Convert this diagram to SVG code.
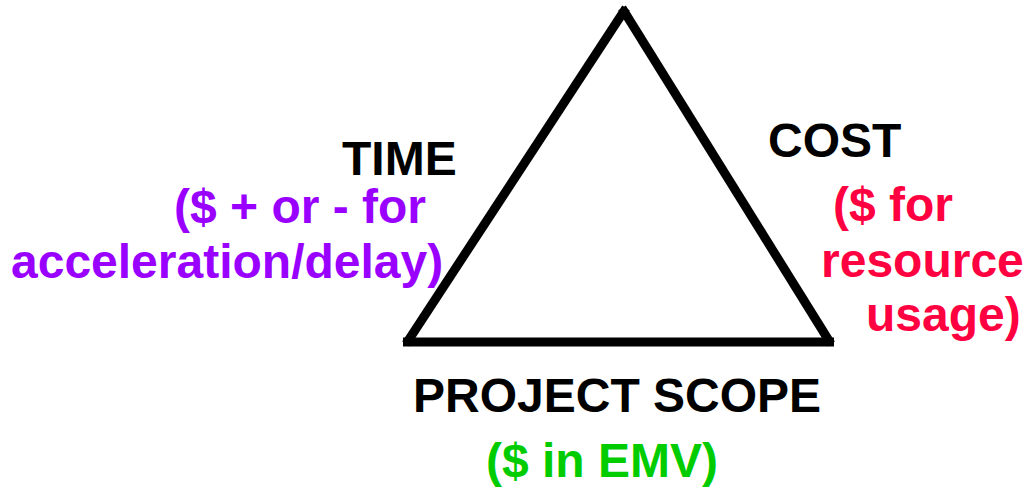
<svg xmlns="http://www.w3.org/2000/svg" width="1026" height="488" viewBox="0 0 1026 488">
<style>
text{font-family:"Liberation Sans",Arial,sans-serif;font-weight:bold;font-size:48px}
.k{fill:#000}
.p{fill:#9900FF}
.r{fill:#FF0040}
.g{fill:#00CC00}
.edge{stroke:#000;stroke-width:9;fill:none}
</style>
<rect width="1026" height="488" fill="#fff"/>
<g id="connectors">
<line class="edge" x1="626" y1="8" x2="406" y2="344"/>
<line class="edge" x1="622" y1="8" x2="831" y2="344"/>
<line class="edge" x1="403" y1="342" x2="834" y2="342"/>
</g>
<g id="time">
<text class="k" x="342" y="175">TIME</text>
<text class="p" x="174" y="223">($ + or - for</text>
<text class="p" x="11" y="278">acceleration/delay)</text>
</g>
<g id="cost">
<text class="k" x="768" y="157">COST</text>
<text class="r" x="833" y="221">($ for</text>
<text class="r" x="821" y="277">resource</text>
<text class="r" x="866" y="331">usage)</text>
</g>
<g id="scope">
<text class="k" x="413" y="412">PROJECT SCOPE</text>
<text class="g" x="486" y="477">($ in EMV)</text>
</g>
</svg>
